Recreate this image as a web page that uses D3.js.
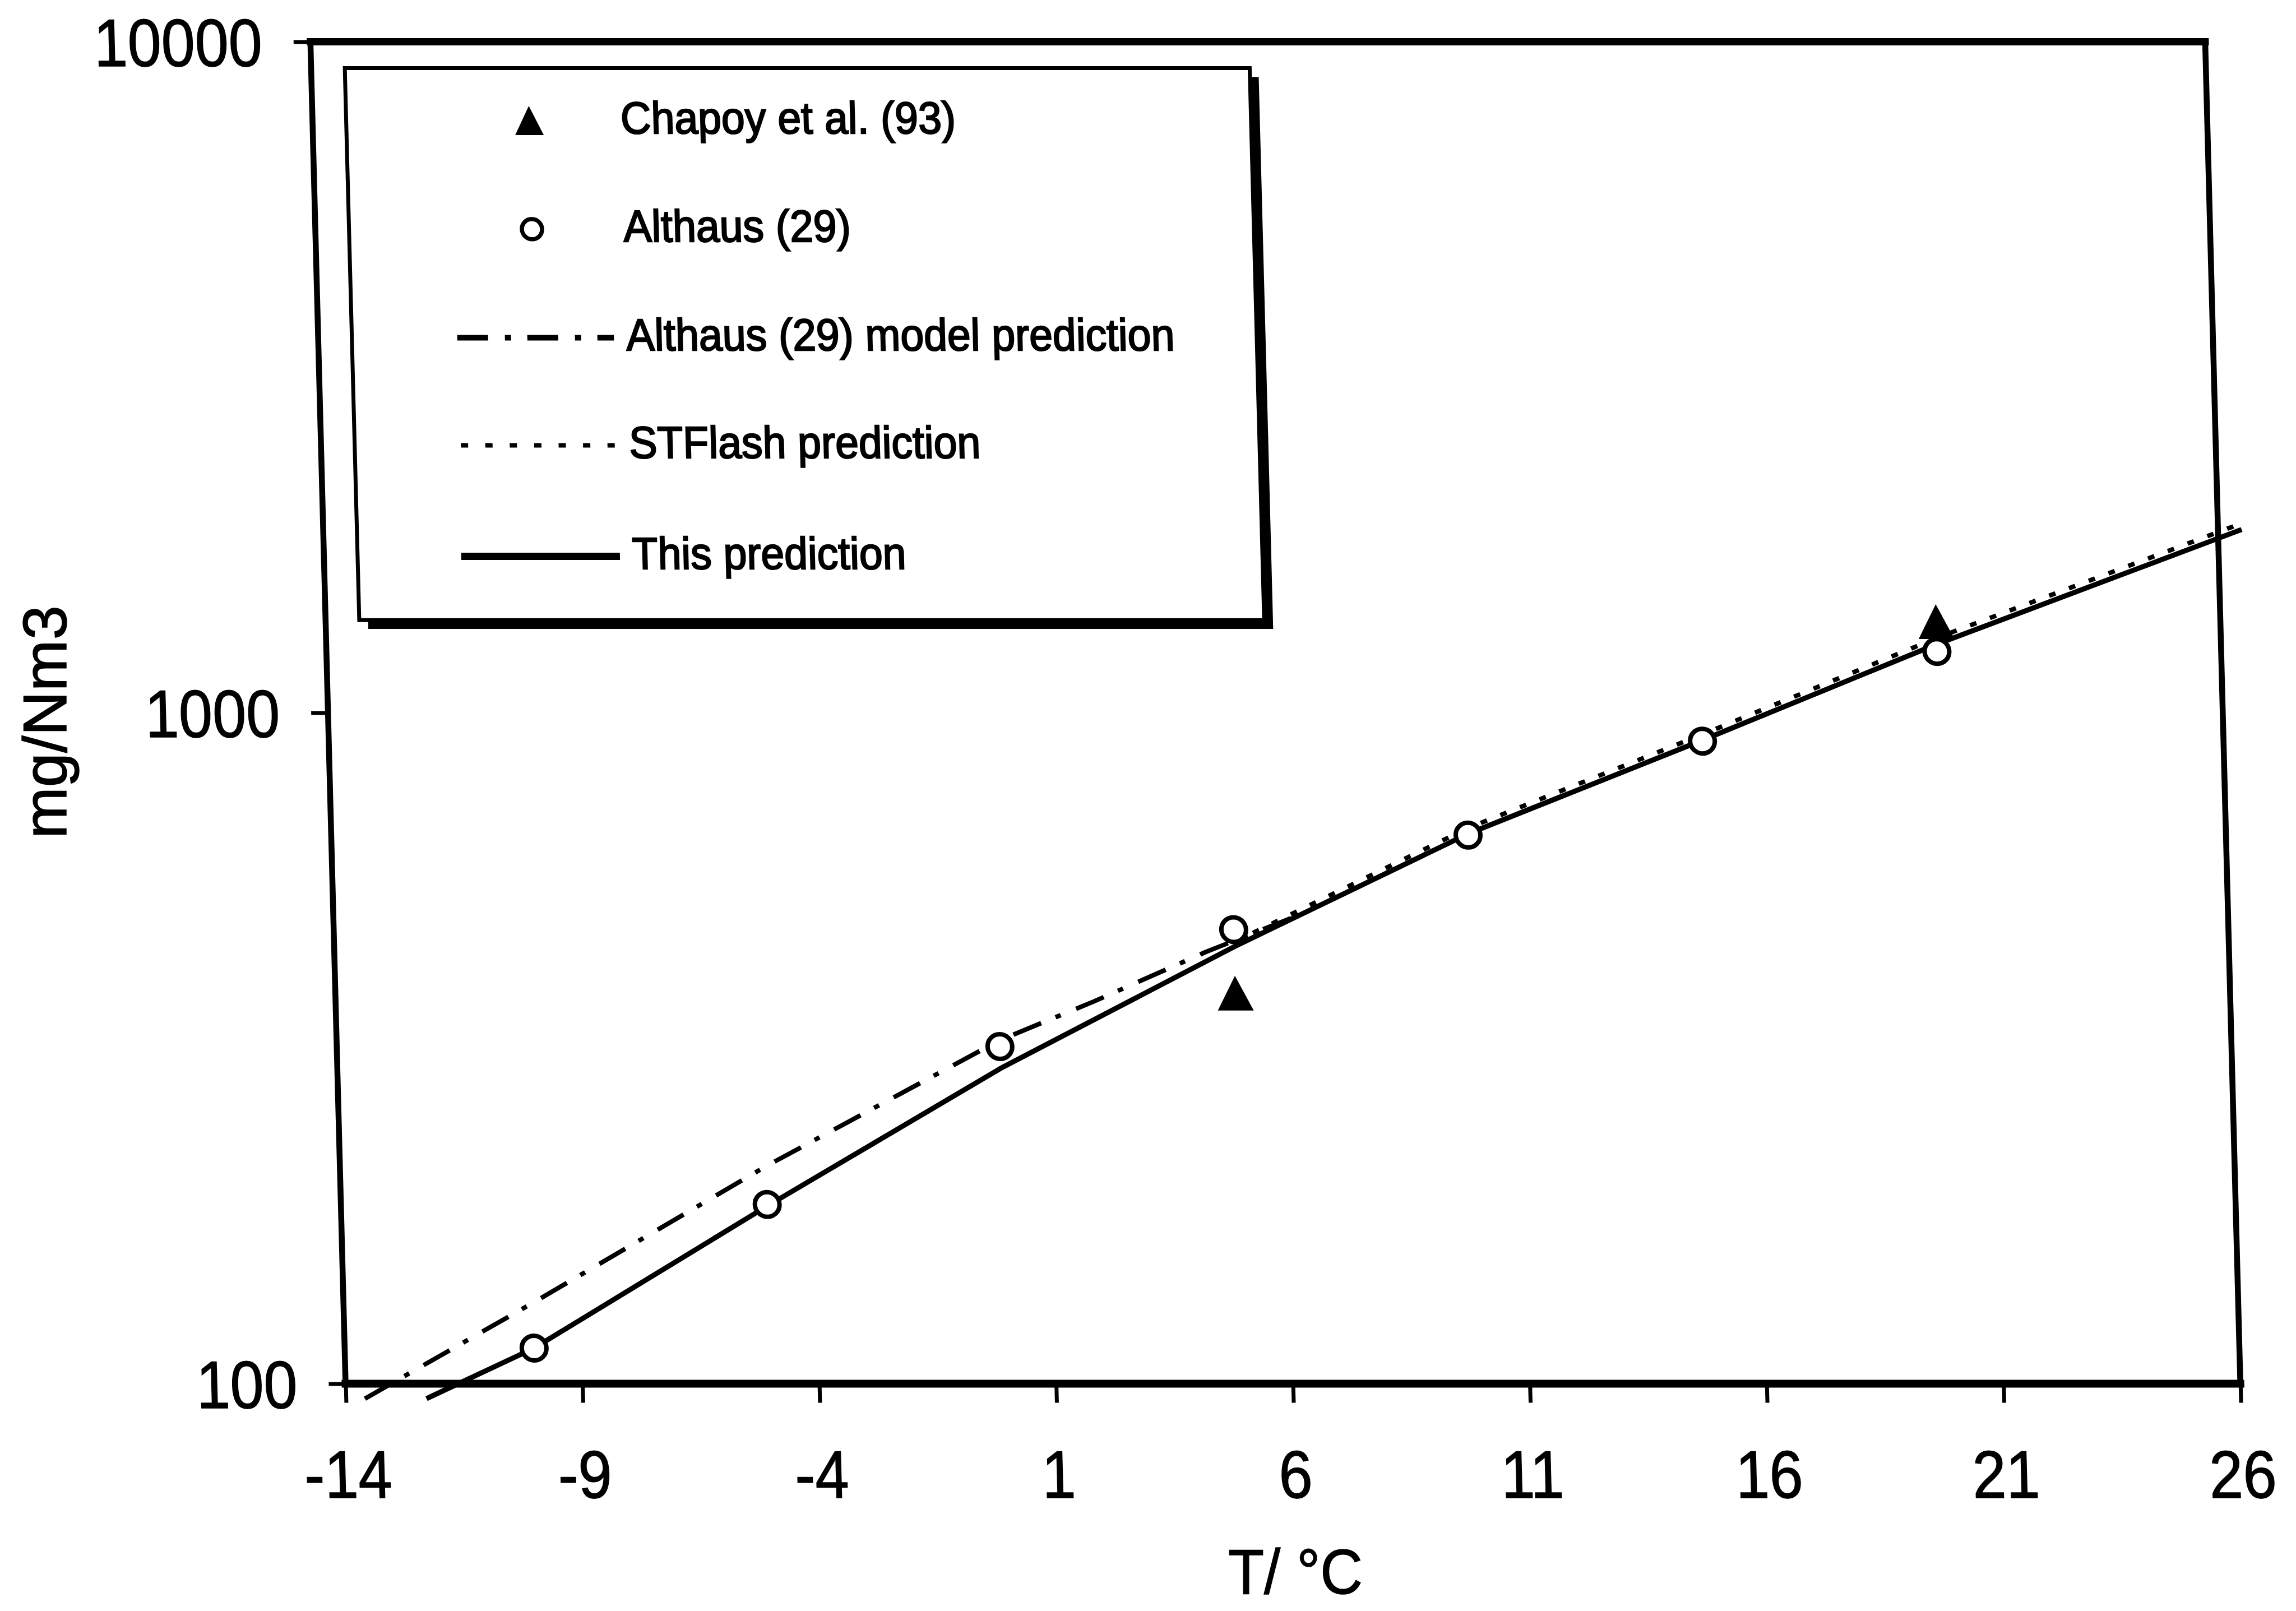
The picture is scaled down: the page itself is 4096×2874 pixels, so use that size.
<!DOCTYPE html>
<html>
<head>
<meta charset="utf-8">
<script src="https://cdn.jsdelivr.net/npm/d3@7"></script>
<style>
html,body{margin:0;padding:0;background:#fff;}
svg{display:block;}
text{font-family:"Liberation Sans", Arial, Helvetica, sans-serif; fill:#000;}
</style>
</head>
<body>
<svg id="chart" width="4096" height="2874"></svg>
<script>
// ---------------- data ----------------
const tempTicks = [-14, -9, -4, 1, 6, 11, 16, 21, 26];
const concTicks = [100, 1000, 10000];

const chapoyT   = [5, 20];
const chapoyVal = [382, 1367];

const althausT   = [-10, -5, 0, 5, 10, 15, 20];
const althausVal = [113, 185, 318, 475, 657, 907, 1234];

const modelT   = [-13.6, -10, -5, 0, 2, 4.4, 6.5];
const modelVal = [95, 132, 211, 325, 371, 440, 503];

const stflashT   = [5, 10, 15, 20, 26.5];
const stflashVal = [455, 673, 928, 1292, 1915];

const thisT   = [-12.3, -10, -5, 0, 5, 10, 15, 20, 26.5];
const thisVal = [95, 113, 184, 295, 448, 660, 910, 1265, 1875];

const legendLabels = ["Chapoy et al. (93)", "Althaus (29)", "Althaus (29) model prediction", "STFlash prediction", "This prediction"];
const xTitle = "T/ °C";
const yTitle = "mg/Nm3";

// ---------------- layout ----------------
const W = 4096, H = 2874;
const M = {left: 616.5, right: 3996.7, top: 74.4, bottom: 2468.5};
const shear = 0.0262;               // scanned figure is slightly sheared
const zip = (a, b) => a.map((v, i) => [v, b[i]]);

const x = d3.scaleLinear().domain([-14, 26]).range([M.left, M.right]);
const y = d3.scaleLog().domain([100, 10000]).range([M.bottom, M.top]);

const svg = d3.select("#chart");
svg.append("rect").attr("width", W).attr("height", H).attr("fill", "#fff");

const skewDeg = Math.atan(shear) * 180 / Math.PI;
const g = svg.append("g")
  .attr("transform", `translate(0,${M.bottom}) skewX(${skewDeg}) translate(0,${-M.bottom})`);

function condense(sel, f) {
  sel.each(function () {
    const L = this.getComputedTextLength();
    this.setAttribute("textLength", L * f);
    this.setAttribute("lengthAdjust", "spacingAndGlyphs");
  });
}

// ---------------- axes ----------------
const xAxis = d3.axisBottom(x).tickValues(tempTicks).tickSize(34).tickSizeOuter(0)
  .tickFormat(d => String(d));
const gx = g.append("g").attr("transform", `translate(0,${M.bottom})`).call(xAxis);
gx.select(".domain").remove();
gx.selectAll(".tick line").attr("stroke", "#000").attr("stroke-width", 7);
gx.selectAll(".tick text").attr("y", 203.5).attr("dy", null)
  .attr("font-size", 120).attr("stroke", "#000").attr("stroke-width", 1.5);

const yAxis = d3.axisLeft(y).tickValues(concTicks).tickSize(30).tickSizeOuter(0)
  .tickFormat(d => String(d));
const gy = g.append("g").attr("transform", `translate(${M.left},0)`).call(yAxis);
gy.select(".domain").remove();
gy.selectAll(".tick line").attr("stroke", "#000").attr("stroke-width", 7);
gy.selectAll(".tick text").attr("x", -86).attr("dy", "0.36em")
  .attr("font-size", 120).attr("stroke", "#000").attr("stroke-width", 1.5);

// frame
const frame = g.append("g").attr("stroke", "#000").attr("stroke-linecap", "square");
frame.append("line").attr("x1", M.left).attr("x2", M.right).attr("y1", M.top).attr("y2", M.top).attr("stroke-width", 13);
frame.append("line").attr("x1", M.left).attr("x2", M.right).attr("y1", M.bottom).attr("y2", M.bottom).attr("stroke-width", 14);
frame.append("line").attr("x1", M.left).attr("x2", M.left).attr("y1", M.top).attr("y2", M.bottom).attr("stroke-width", 10.5);
frame.append("line").attr("x1", M.right).attr("x2", M.right).attr("y1", M.top).attr("y2", M.bottom).attr("stroke-width", 10.5);

// ---------------- series ----------------
const line = d3.line().x(d => x(d[0])).y(d => y(d[1]));

g.append("path").datum(zip(modelT, modelVal)).attr("d", line)
  .attr("fill", "none").attr("stroke", "#000").attr("stroke-width", 8)
  .attr("stroke-dasharray", "54,28,10,30");

g.append("path").datum(zip(stflashT, stflashVal)).attr("d", line)
  .attr("fill", "none").attr("stroke", "#000").attr("stroke-width", 8)
  .attr("stroke-dasharray", "12,26");

g.append("path").datum(zip(thisT, thisVal)).attr("d", line)
  .attr("fill", "none").attr("stroke", "#000").attr("stroke-width", 9)
  .attr("stroke-linejoin", "round");

const tri = (cx, cy, w, h) => `M${cx},${cy - h / 2}L${cx + w / 2},${cy + h / 2}L${cx - w / 2},${cy + h / 2}Z`;

g.append("g").selectAll("circle").data(zip(althausT, althausVal)).join("circle")
  .attr("cx", d => x(d[0])).attr("cy", d => y(d[1])).attr("r", 22)
  .attr("fill", "#fff").attr("stroke", "#000").attr("stroke-width", 8);

g.append("g").selectAll("path").data(zip(chapoyT, chapoyVal)).join("path")
  .attr("d", d => tri(x(d[0]), y(d[1]), 64, 62)).attr("fill", "#000");

// ---------------- legend ----------------
const LB = {x0: 676.6, x1: 2290.9, y0: 121.5, y1: 1106.3, sh: 15.7};
const leg = g.append("g");
leg.append("rect").attr("x", LB.x0 + LB.sh).attr("y", LB.y0 + LB.sh)
  .attr("width", LB.x1 - LB.x0).attr("height", LB.y1 - LB.y0).attr("fill", "#000");
leg.append("rect").attr("x", LB.x0).attr("y", LB.y0)
  .attr("width", LB.x1 - LB.x0).attr("height", LB.y1 - LB.y0)
  .attr("fill", "#fff").attr("stroke", "#000").attr("stroke-width", 7);

const itemY = [215, 408.8, 602.6, 794.4, 992.6];
const markX = 1003, lineX0 = 864.6, lineX1 = 1144.2, textX = 1166.3;

leg.append("path").attr("d", tri(markX, itemY[0], 51, 52)).attr("fill", "#000");
leg.append("circle").attr("cx", markX).attr("cy", itemY[1]).attr("r", 18)
  .attr("fill", "#fff").attr("stroke", "#000").attr("stroke-width", 7.5);
leg.append("line").attr("x1", lineX0).attr("x2", lineX1).attr("y1", itemY[2]).attr("y2", itemY[2])
  .attr("stroke", "#000").attr("stroke-width", 10).attr("stroke-dasharray", "55,30,11,29");
leg.append("line").attr("x1", 866).attr("x2", 1141).attr("y1", itemY[3]).attr("y2", itemY[3])
  .attr("stroke", "#000").attr("stroke-width", 8).attr("stroke-dasharray", "13,30.6");
leg.append("line").attr("x1", 861.5).attr("x2", 1144.6).attr("y1", itemY[4]).attr("y2", itemY[4])
  .attr("stroke", "#000").attr("stroke-width", 13);

const legText = leg.selectAll("text.leg").data(legendLabels).join("text")
  .attr("class", "leg")
  .attr("x", textX).attr("y", (d, i) => itemY[i] + 22.7)
  .attr("font-size", 80).attr("stroke", "#000").attr("stroke-width", 2.5)
  .text(d => d);

// ---------------- titles ----------------
svg.append("text").attr("transform", "translate(117.5,1288) rotate(-90)")
  .attr("text-anchor", "middle").attr("font-size", 110)
  .attr("stroke", "#000").attr("stroke-width", 1.5).text(yTitle);

const xt = svg.append("text").attr("x", 2311).attr("y", 2843)
  .attr("text-anchor", "middle").attr("font-size", 114)
  .attr("stroke", "#000").attr("stroke-width", 1.5).text(xTitle);

// condensed look of the scanned lettering
condense(gx.selectAll(".tick text"), 0.9);
condense(gy.selectAll(".tick text"), 0.9);
condense(xt, 0.92);
condense(legText, 0.94);
</script>
</body>
</html>
